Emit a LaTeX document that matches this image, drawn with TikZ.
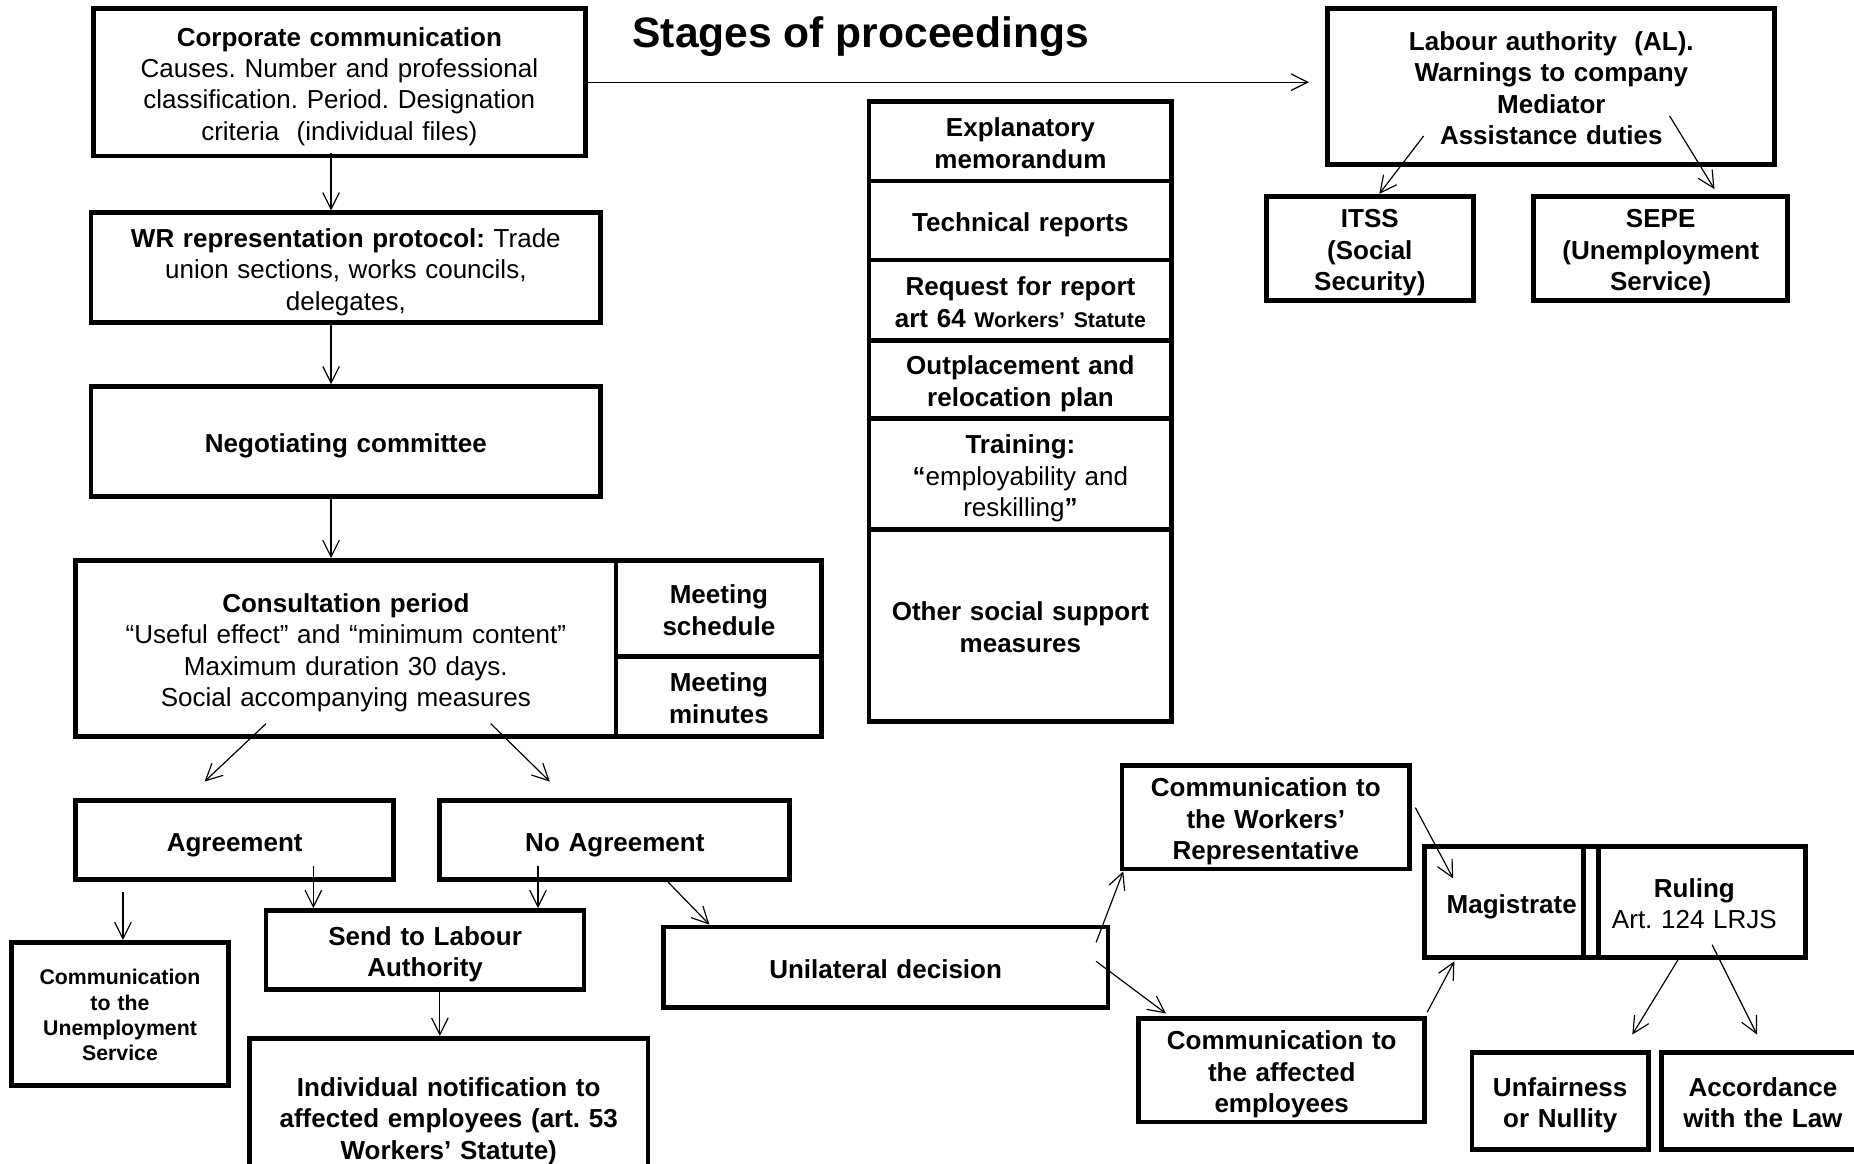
\documentclass[tikz,border=0pt]{standalone}
\usepackage{fontspec}
\setmainfont{Liberation Sans}
\frenchspacing
\usetikzlibrary{arrows.meta,calc}
\tikzset{
  box/.style={draw, line width=2pt, inner sep=0pt, align=center, font=\bfseries\fontsize{11}{13.3}\selectfont,
    execute at begin node={\rule{0pt}{\baselineskip}},
    execute at end node={\rule[-.3\baselineskip]{0pt}{.3\baselineskip}}},
  link/.style={-{Straight Barb[length=7pt,width=7pt]}, line width=0.5pt},
}
\begin{document}
\begin{tikzpicture}[x=0.5pt,y=-0.5pt]
\useasboundingbox (0,0) rectangle (1568,984);
\clip (0,0) rectangle (1568,984);
% the title
\node[font=\bfseries\fontsize{18}{22}\selectfont] (title) at (728,31) {Stages of proceedings};
%% left column
\node[box, minimum width=208pt, minimum height=62.5pt, text width=204pt] (corp) at (287,69.5)
  {Corporate communication\\ \mdseries Causes. Number and professional\\ classification. Period. Designation\\ criteria\ \ (individual files)};
\node[box, minimum width=215.5pt, minimum height=46.5pt, text width=211pt] (wr) at (292.5,226.5)
  {WR representation protocol: \mdseries Trade\\ union sections, works councils,\\ delegates,};
\node[box, minimum width=215.5pt, minimum height=46.5pt, text width=211pt] (neg) at (292.5,373.5) {Negotiating committee};
\node[box, minimum width=228.5pt, minimum height=74.5pt, text width=224pt] (consult) at (292.5,548.5)
  {Consultation period\\ \mdseries “Useful effect” and “minimum content”\\ Maximum duration 30 days.\\ Social accompanying measures};
\node[box, minimum width=87pt, minimum height=40.5pt, text width=83pt] (msched) at (608,514.5) {Meeting\\ schedule};
\node[box, minimum width=87pt, minimum height=34pt, text width=83pt] (mmin) at (608,589) {Meeting\\ minutes};
\node[box, minimum width=134.5pt, minimum height=33.5pt, text width=130pt] (agree) at (198.5,710.5) {Agreement};
\node[box, minimum width=148pt, minimum height=33.5pt, text width=144pt] (noagree) at (520,710.5) {No Agreement};
\node[box, minimum width=91.5pt, minimum height=60.5pt, text width=88pt, font=\bfseries\fontsize{9}{10.7}\selectfont] (commun) at (101.5,857.5)
  {Communication\\ to the\\ Unemployment\\ Service};
\node[box, minimum width=134.5pt, minimum height=33.5pt, text width=130pt] (send) at (359.5,803.5) {Send to Labour\\ Authority};
\node[box, minimum width=168.5pt, minimum height=66.5pt, text width=164pt] (indiv) at (379.5,944.5)
  {Individual notification to\\ affected employees (art. 53\\ Workers’ Statute)};
\node[box, minimum width=188pt, minimum height=34pt, text width=184pt] (unilat) at (749,818) {Unilateral decision};
%% middle column
\node[box, minimum width=128pt, minimum height=33.5pt, text width=124pt] (memo) at (863,119.5) {Explanatory\\ memorandum};
\node[box, minimum width=128pt, minimum height=33.5pt, text width=124pt] (techrep) at (863,186.5) {Technical reports};
\node[box, minimum width=128pt, minimum height=34pt, text width=124pt] (request) at (863,254)
  {Request for report\\ art 64 {\fontsize{9}{10.7}\selectfont Workers’ Statute}};
\node[box, minimum width=128pt, minimum height=33pt, text width=124pt] (outplace) at (863,321) {Outplacement and\\ relocation plan};
\node[box, minimum width=128pt, minimum height=47pt, text width=124pt] (training) at (863,401)
  {Training:\\ \mdseries\textbf{“}employability and\\ reskilling\textbf{”}};
\node[box, minimum width=128pt, minimum height=81pt, text width=124pt] (othersup) at (863,529) {Other social support\\ measures};
%% right side
\node[box, minimum width=189pt, minimum height=66pt, text width=185pt] (labour) at (1312,73)
  {Labour authority\ \ (AL).\\ Warnings to company\\ Mediator\\ Assistance duties};
\node[box, minimum width=87.5pt, minimum height=44pt, text width=84pt] (itss) at (1158.5,210) {ITSS\\ (Social\\ Security)};
\node[box, minimum width=107.5pt, minimum height=44pt, text width=104pt] (sepe) at (1404.5,210) {SEPE\\ (Unemployment\\ Service)};
\node[box, minimum width=121.5pt, minimum height=40pt, text width=118pt] (workrep) at (1070.5,691) {Communication to\\ the Workers’\\ Representative};
\node[box, minimum width=121pt, minimum height=40pt, text width=118pt] (affected) at (1084,905) {Communication to\\ the affected\\ employees};
\node[box, minimum width=73.5pt, minimum height=47pt, text width=71pt] (magis) at (1278.5,763) {Magistrate};
\node[box, minimum width=94pt, minimum height=47pt, text width=91pt] (ruling) at (1433,763) {Ruling\\ \mdseries Art. 124 LRJS};
\node[box, minimum width=74.5pt, minimum height=41pt, text width=72pt] (unfair) at (1319.5,931) {Unfairness\\ or Nullity};
\node[box, minimum width=86pt, minimum height=41pt, text width=82pt] (accord) at (1491,931) {Accordance\\ with the Law};
%% the arrows
\draw[link, shorten >=7pt] (corp.east) -- (corp.east -| labour.west);
\draw[link] ($(corp.south)+(-7,-5)$) -- ($(wr.north)+(-12.5,0)$);
\draw[link] ($(wr.south)+(-12.5,0)$) -- ($(neg.north)+(-12.5,0)$);
\draw[link] ($(neg.south)+(-12.5,0)$) -- ($(consult.north)+(-12.5,0)$);
\draw[link] ($(consult.south)+(-67.5,-13)$) -- ($(agree.north)+(-25.5,-14)$);
\draw[link] ($(consult.south)+(122.5,-13)$) -- ($(noagree.north)+(-55,-14)$);
\draw[link] ($(agree.south)+(-94.5,8)$) -- ($(commun.north)+(2.5,0)$);
\draw[link] ($(agree.south)+(66.5,-14)$) -- ($(send.north)+(-94.5,0)$);
\draw[link] ($(noagree.south)+(-65,-14)$) -- ($(send.north)+(95.5,0)$);
\draw[link] ($(noagree.south)+(45,0)$) -- ($(unilat.north)+(-149,0)$);
\draw[link] ($(send.south)+(12.5,0)$) -- ($(indiv.north)+(-7.5,0)$);
\draw[link] ($(unilat.east)+(-12,-21)$) -- ($(workrep.south west)+(3,0)$);
\draw[link] ($(unilat.east)+(-12,-5)$) -- ($(affected.north west)+(25,-2)$);
\draw[link] ($(workrep.east)+(3,-8)$) -- ($(magis.north west)+(26,29)$);
\draw[link] ($(affected.north east)+(0,-3)$) -- ($(magis.south west)+(27,1)$);
\draw[link] ($(ruling.south)+(-14,0)$) -- ($(unfair.north)+(61,-13)$);
\draw[link] ($(ruling.south)+(15,-13)$) -- ($(accord.north)+(-5,-13)$);
\draw[link] ($(labour.south west)+(83,-26)$) -- ($(itss.north)+(8,0)$);
\draw[link] ($(labour.south)+(100,-43)$) -- ($(sepe.north)+(45.5,-4)$);
\end{tikzpicture}
\end{document}
